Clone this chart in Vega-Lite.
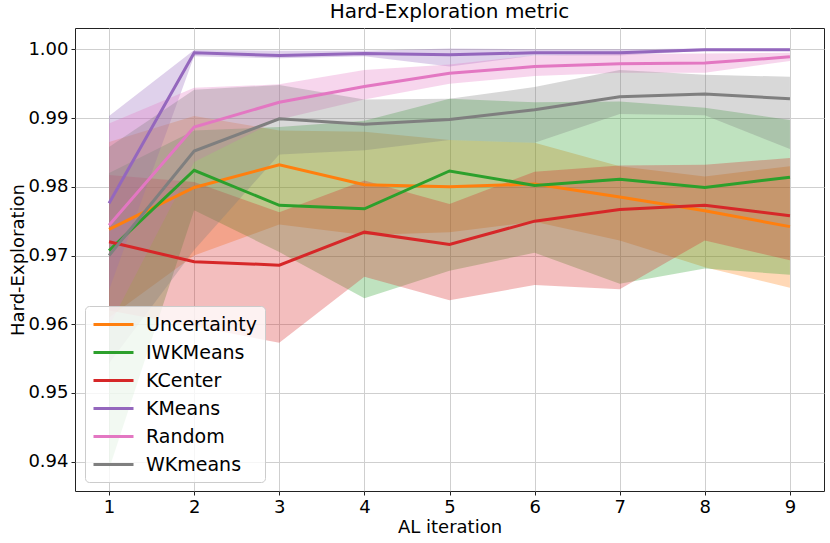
{
  "$schema": "https://vega.github.io/schema/vega-lite/v6.json",
  "width": 749,
  "height": 463,
  "autosize": {"type": "none"},
  "padding": {"left": 75, "top": 28, "right": 6, "bottom": 52},
  "title": {"text": "Hard-Exploration metric", "fontSize": 20, "fontWeight": "normal", "font": "DejaVu Sans", "color": "#000", "offset": 6},
  "data": {
    "values": [
      {"it": 1, "m": "Uncertainty", "mean": 0.9738, "lo": 0.9610, "hi": 0.9865},
      {"it": 2, "m": "Uncertainty", "mean": 0.9799, "lo": 0.9700, "hi": 0.9903},
      {"it": 3, "m": "Uncertainty", "mean": 0.9832, "lo": 0.9745, "hi": 0.9882},
      {"it": 4, "m": "Uncertainty", "mean": 0.9803, "lo": 0.9730, "hi": 0.9880},
      {"it": 5, "m": "Uncertainty", "mean": 0.9800, "lo": 0.9734, "hi": 0.9868},
      {"it": 6, "m": "Uncertainty", "mean": 0.9804, "lo": 0.9749, "hi": 0.9864},
      {"it": 7, "m": "Uncertainty", "mean": 0.9785, "lo": 0.9722, "hi": 0.9830},
      {"it": 8, "m": "Uncertainty", "mean": 0.9765, "lo": 0.9683, "hi": 0.9815},
      {"it": 9, "m": "Uncertainty", "mean": 0.9742, "lo": 0.9653, "hi": 0.9830},
      {"it": 1, "m": "IWKMeans", "mean": 0.9707, "lo": 0.9389, "hi": 0.9820},
      {"it": 2, "m": "IWKMeans", "mean": 0.9824, "lo": 0.9766, "hi": 0.9882},
      {"it": 3, "m": "IWKMeans", "mean": 0.9773, "lo": 0.9705, "hi": 0.9887},
      {"it": 4, "m": "IWKMeans", "mean": 0.9768, "lo": 0.9638, "hi": 0.9896},
      {"it": 5, "m": "IWKMeans", "mean": 0.9823, "lo": 0.9678, "hi": 0.9928},
      {"it": 6, "m": "IWKMeans", "mean": 0.9802, "lo": 0.9704, "hi": 0.9923},
      {"it": 7, "m": "IWKMeans", "mean": 0.9811, "lo": 0.9659, "hi": 0.9924},
      {"it": 8, "m": "IWKMeans", "mean": 0.9799, "lo": 0.9681, "hi": 0.9915},
      {"it": 9, "m": "IWKMeans", "mean": 0.9814, "lo": 0.9672, "hi": 0.9897},
      {"it": 1, "m": "KCenter", "mean": 0.9720, "lo": 0.9620, "hi": 0.9817},
      {"it": 2, "m": "KCenter", "mean": 0.9691, "lo": 0.9597, "hi": 0.9807},
      {"it": 3, "m": "KCenter", "mean": 0.9686, "lo": 0.9573, "hi": 0.9763},
      {"it": 4, "m": "KCenter", "mean": 0.9734, "lo": 0.9669, "hi": 0.9809},
      {"it": 5, "m": "KCenter", "mean": 0.9716, "lo": 0.9635, "hi": 0.9775},
      {"it": 6, "m": "KCenter", "mean": 0.9750, "lo": 0.9657, "hi": 0.9822},
      {"it": 7, "m": "KCenter", "mean": 0.9767, "lo": 0.9651, "hi": 0.9831},
      {"it": 8, "m": "KCenter", "mean": 0.9773, "lo": 0.9722, "hi": 0.9832},
      {"it": 9, "m": "KCenter", "mean": 0.9758, "lo": 0.9693, "hi": 0.9842},
      {"it": 1, "m": "KMeans", "mean": 0.9776, "lo": 0.9650, "hi": 0.9903},
      {"it": 2, "m": "KMeans", "mean": 0.9995, "lo": 0.9990, "hi": 0.9999},
      {"it": 3, "m": "KMeans", "mean": 0.9991, "lo": 0.9987, "hi": 0.9998},
      {"it": 4, "m": "KMeans", "mean": 0.9994, "lo": 0.9990, "hi": 0.9998},
      {"it": 5, "m": "KMeans", "mean": 0.9992, "lo": 0.9975, "hi": 1.0001},
      {"it": 6, "m": "KMeans", "mean": 0.9995, "lo": 0.9991, "hi": 1.0000},
      {"it": 7, "m": "KMeans", "mean": 0.9995, "lo": 0.9991, "hi": 1.0000},
      {"it": 8, "m": "KMeans", "mean": 0.99995, "lo": 0.9998, "hi": 1.0001},
      {"it": 9, "m": "KMeans", "mean": 0.99995, "lo": 0.9998, "hi": 1.0001},
      {"it": 1, "m": "Random", "mean": 0.9744, "lo": 0.9597, "hi": 0.9892},
      {"it": 2, "m": "Random", "mean": 0.9887, "lo": 0.9836, "hi": 0.9944},
      {"it": 3, "m": "Random", "mean": 0.9923, "lo": 0.9898, "hi": 0.9949},
      {"it": 4, "m": "Random", "mean": 0.9946, "lo": 0.9927, "hi": 0.9970},
      {"it": 5, "m": "Random", "mean": 0.9965, "lo": 0.9950, "hi": 0.9978},
      {"it": 6, "m": "Random", "mean": 0.9975, "lo": 0.9961, "hi": 0.9991},
      {"it": 7, "m": "Random", "mean": 0.9979, "lo": 0.9966, "hi": 0.9993},
      {"it": 8, "m": "Random", "mean": 0.9980, "lo": 0.9966, "hi": 0.9994},
      {"it": 9, "m": "Random", "mean": 0.9989, "lo": 0.9983, "hi": 0.9995},
      {"it": 1, "m": "WKmeans", "mean": 0.9700, "lo": 0.9543, "hi": 0.9858},
      {"it": 2, "m": "WKmeans", "mean": 0.9852, "lo": 0.9708, "hi": 0.9941},
      {"it": 3, "m": "WKmeans", "mean": 0.9899, "lo": 0.9847, "hi": 0.9948},
      {"it": 4, "m": "WKmeans", "mean": 0.9891, "lo": 0.9853, "hi": 0.9927},
      {"it": 5, "m": "WKmeans", "mean": 0.9898, "lo": 0.9868, "hi": 0.9928},
      {"it": 6, "m": "WKmeans", "mean": 0.9912, "lo": 0.9864, "hi": 0.9945},
      {"it": 7, "m": "WKmeans", "mean": 0.9931, "lo": 0.9906, "hi": 0.9970},
      {"it": 8, "m": "WKmeans", "mean": 0.9935, "lo": 0.9904, "hi": 0.9963},
      {"it": 9, "m": "WKmeans", "mean": 0.9928, "lo": 0.9855, "hi": 0.9960}
    ]
  },
  "encoding": {
    "x": {
      "field": "it",
      "type": "quantitative",
      "scale": {"domain": [0.6, 9.4], "nice": false, "zero": false},
      "axis": {"values": [1, 2, 3, 4, 5, 6, 7, 8, 9], "title": "AL iteration", "format": "d"}
    },
    "color": {
      "field": "m",
      "type": "nominal",
      "scale": {
        "domain": ["Uncertainty", "IWKMeans", "KCenter", "KMeans", "Random", "WKmeans"],
        "range": ["#ff7f0e", "#2ca02c", "#d62728", "#9467bd", "#e377c2", "#7f7f7f"]
      },
      "legend": {
        "title": null,
        "orient": "none",
        "legendX": 10,
        "legendY": 278,
        "symbolType": "M-1,0H3",
        "symbolSize": 400,
        "symbolStrokeWidth": 3,
        "symbolOpacity": 1,
        "labelFontSize": 19,
        "labelOffset": 31,
        "rowPadding": 6,
        "padding": 7,
        "fillColor": "rgba(255,255,255,0.8)",
        "strokeColor": "#cccccc",
        "cornerRadius": 4
      }
    }
  },
  "layer": [
    {
      "mark": {"type": "area", "opacity": 0.3},
      "encoding": {
        "y": {
          "field": "lo",
          "type": "quantitative",
          "scale": {"domain": [0.93574, 1.0031], "nice": false, "zero": false},
          "axis": {"values": [0.94, 0.95, 0.96, 0.97, 0.98, 0.99, 1.0], "format": ".2f", "title": "Hard-Exploration"}
        },
        "y2": {"field": "hi"}
      }
    },
    {
      "mark": {"type": "line", "strokeWidth": 3},
      "encoding": {
        "y": {"field": "mean", "type": "quantitative"}
      }
    }
  ],
  "config": {
    "font": "DejaVu Sans",
    "view": {"stroke": "#222", "strokeWidth": 1},
    "axis": {
      "labelFontSize": 18,
      "titleFontSize": 18,
      "titleFontWeight": "normal",
      "labelColor": "#000",
      "titleColor": "#000",
      "gridColor": "#cfcfcf",
      "gridWidth": 1,
      "domain": false,
      "tickColor": "#222",
      "tickSize": 4,
      "labelPadding": 3,
      "labelFlush": false,
      "labelOverlap": false
    },
    "axisX": {"titlePadding": 2},
    "axisY": {"titlePadding": 0},
    "legend": {"labelColor": "#000", "labelFont": "DejaVu Sans"}
  }
}
